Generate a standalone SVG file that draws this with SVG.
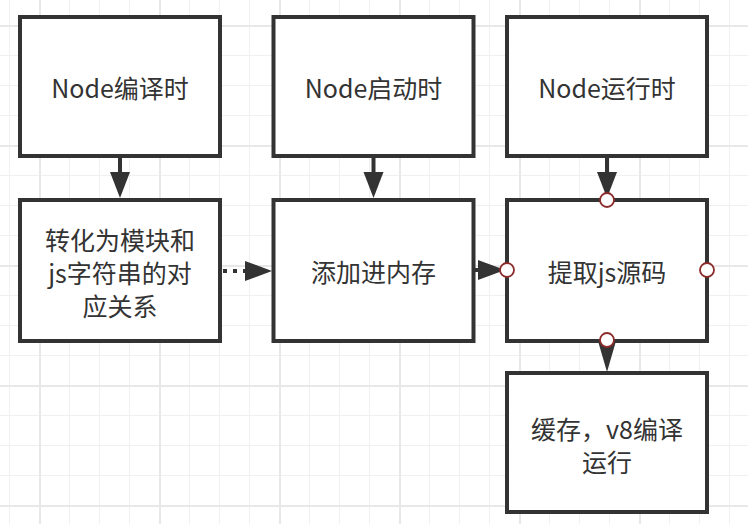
<svg xmlns="http://www.w3.org/2000/svg" width="748" height="524" viewBox="0 0 748 524">
<defs>
<pattern id="gMinor" x="9" y="25" width="30" height="30" patternUnits="userSpaceOnUse">
<path d="M0.5 0V30M0 0.5H30" stroke="#f0f0f0" stroke-width="1" fill="none"/>
</pattern>
<pattern id="gMajor" x="39" y="25" width="120" height="120" patternUnits="userSpaceOnUse">
<path d="M1 0V120M0 1H120" stroke="#e8e8e8" stroke-width="2" fill="none"/>
</pattern>
</defs>
<style>
.box{fill:#ffffff;stroke:#333333;stroke-width:4}
.t{font-family:"Noto Sans CJK SC","Liberation Sans",sans-serif;font-size:25px;fill:#333333;text-anchor:middle;dominant-baseline:central}
.ln{stroke:#333333;stroke-width:4;fill:none}
.dot{stroke:#333333;stroke-width:4;fill:none;stroke-dasharray:4 6}
.ah{fill:#333333;stroke:none}
.cp{fill:#ffffff;stroke:#8b2b2b;stroke-width:1.8}
</style>
<rect width="748" height="524" fill="#ffffff"/>
<rect width="748" height="524" fill="url(#gMinor)"/>
<rect width="748" height="524" fill="url(#gMajor)"/>

<g id="n1"><rect class="box" x="20" y="17" width="200" height="139"/><text class="t" x="120" y="87">Node编译时</text></g>
<g id="n2"><rect class="box" x="273.5" y="17" width="200" height="139"/><text class="t" x="373.5" y="87">Node启动时</text></g>
<g id="n3"><rect class="box" x="507" y="17" width="200" height="139"/><text class="t" x="607" y="87">Node运行时</text></g>
<g id="n4"><rect class="box" x="20" y="200" width="200" height="141"/><text class="t" x="120" y="239">转化为模块和</text><text class="t" x="120" y="272">js字符串的对</text><text class="t" x="120" y="305">应关系</text></g>
<g id="n5"><rect class="box" x="273.5" y="200" width="200" height="141"/><text class="t" x="373.5" y="271">添加进内存</text></g>
<g id="n6"><rect class="box" x="507" y="200" width="200" height="141"/><text class="t" x="607" y="271">提取js源码</text></g>
<g id="n7"><rect class="box" x="507" y="373" width="200" height="139"/><text class="t" x="607" y="428">缓存，v8编译</text><text class="t" x="607" y="461">运行</text></g>

<g id="connectors">
<line class="ln" x1="120" y1="158" x2="120" y2="173"/>
<polygon class="ah" points="110,172 130,172 120,198"/>
<line class="ln" x1="373.5" y1="158" x2="373.5" y2="173"/>
<polygon class="ah" points="363.5,172 383.5,172 373.5,198"/>
<line class="ln" x1="607" y1="158" x2="607" y2="173"/>
<polygon class="ah" points="597,172 617,172 607,198"/>
<circle class="cp" cx="607" cy="200" r="7"/>
<line class="dot" x1="223" y1="271" x2="246" y2="271"/>
<polygon class="ah" points="245,261 245,281 272,271"/>
<line class="ln" x1="475" y1="270" x2="479" y2="270"/>
<polygon class="ah" points="478,260 478,280 505,270"/>
<circle class="cp" cx="507" cy="270" r="7"/>
<circle class="cp" cx="707" cy="270" r="7"/>
<polygon class="ah" points="598,341 616,341 607,372"/>
<circle class="cp" cx="607" cy="340" r="7"/>
</g>
</svg>
